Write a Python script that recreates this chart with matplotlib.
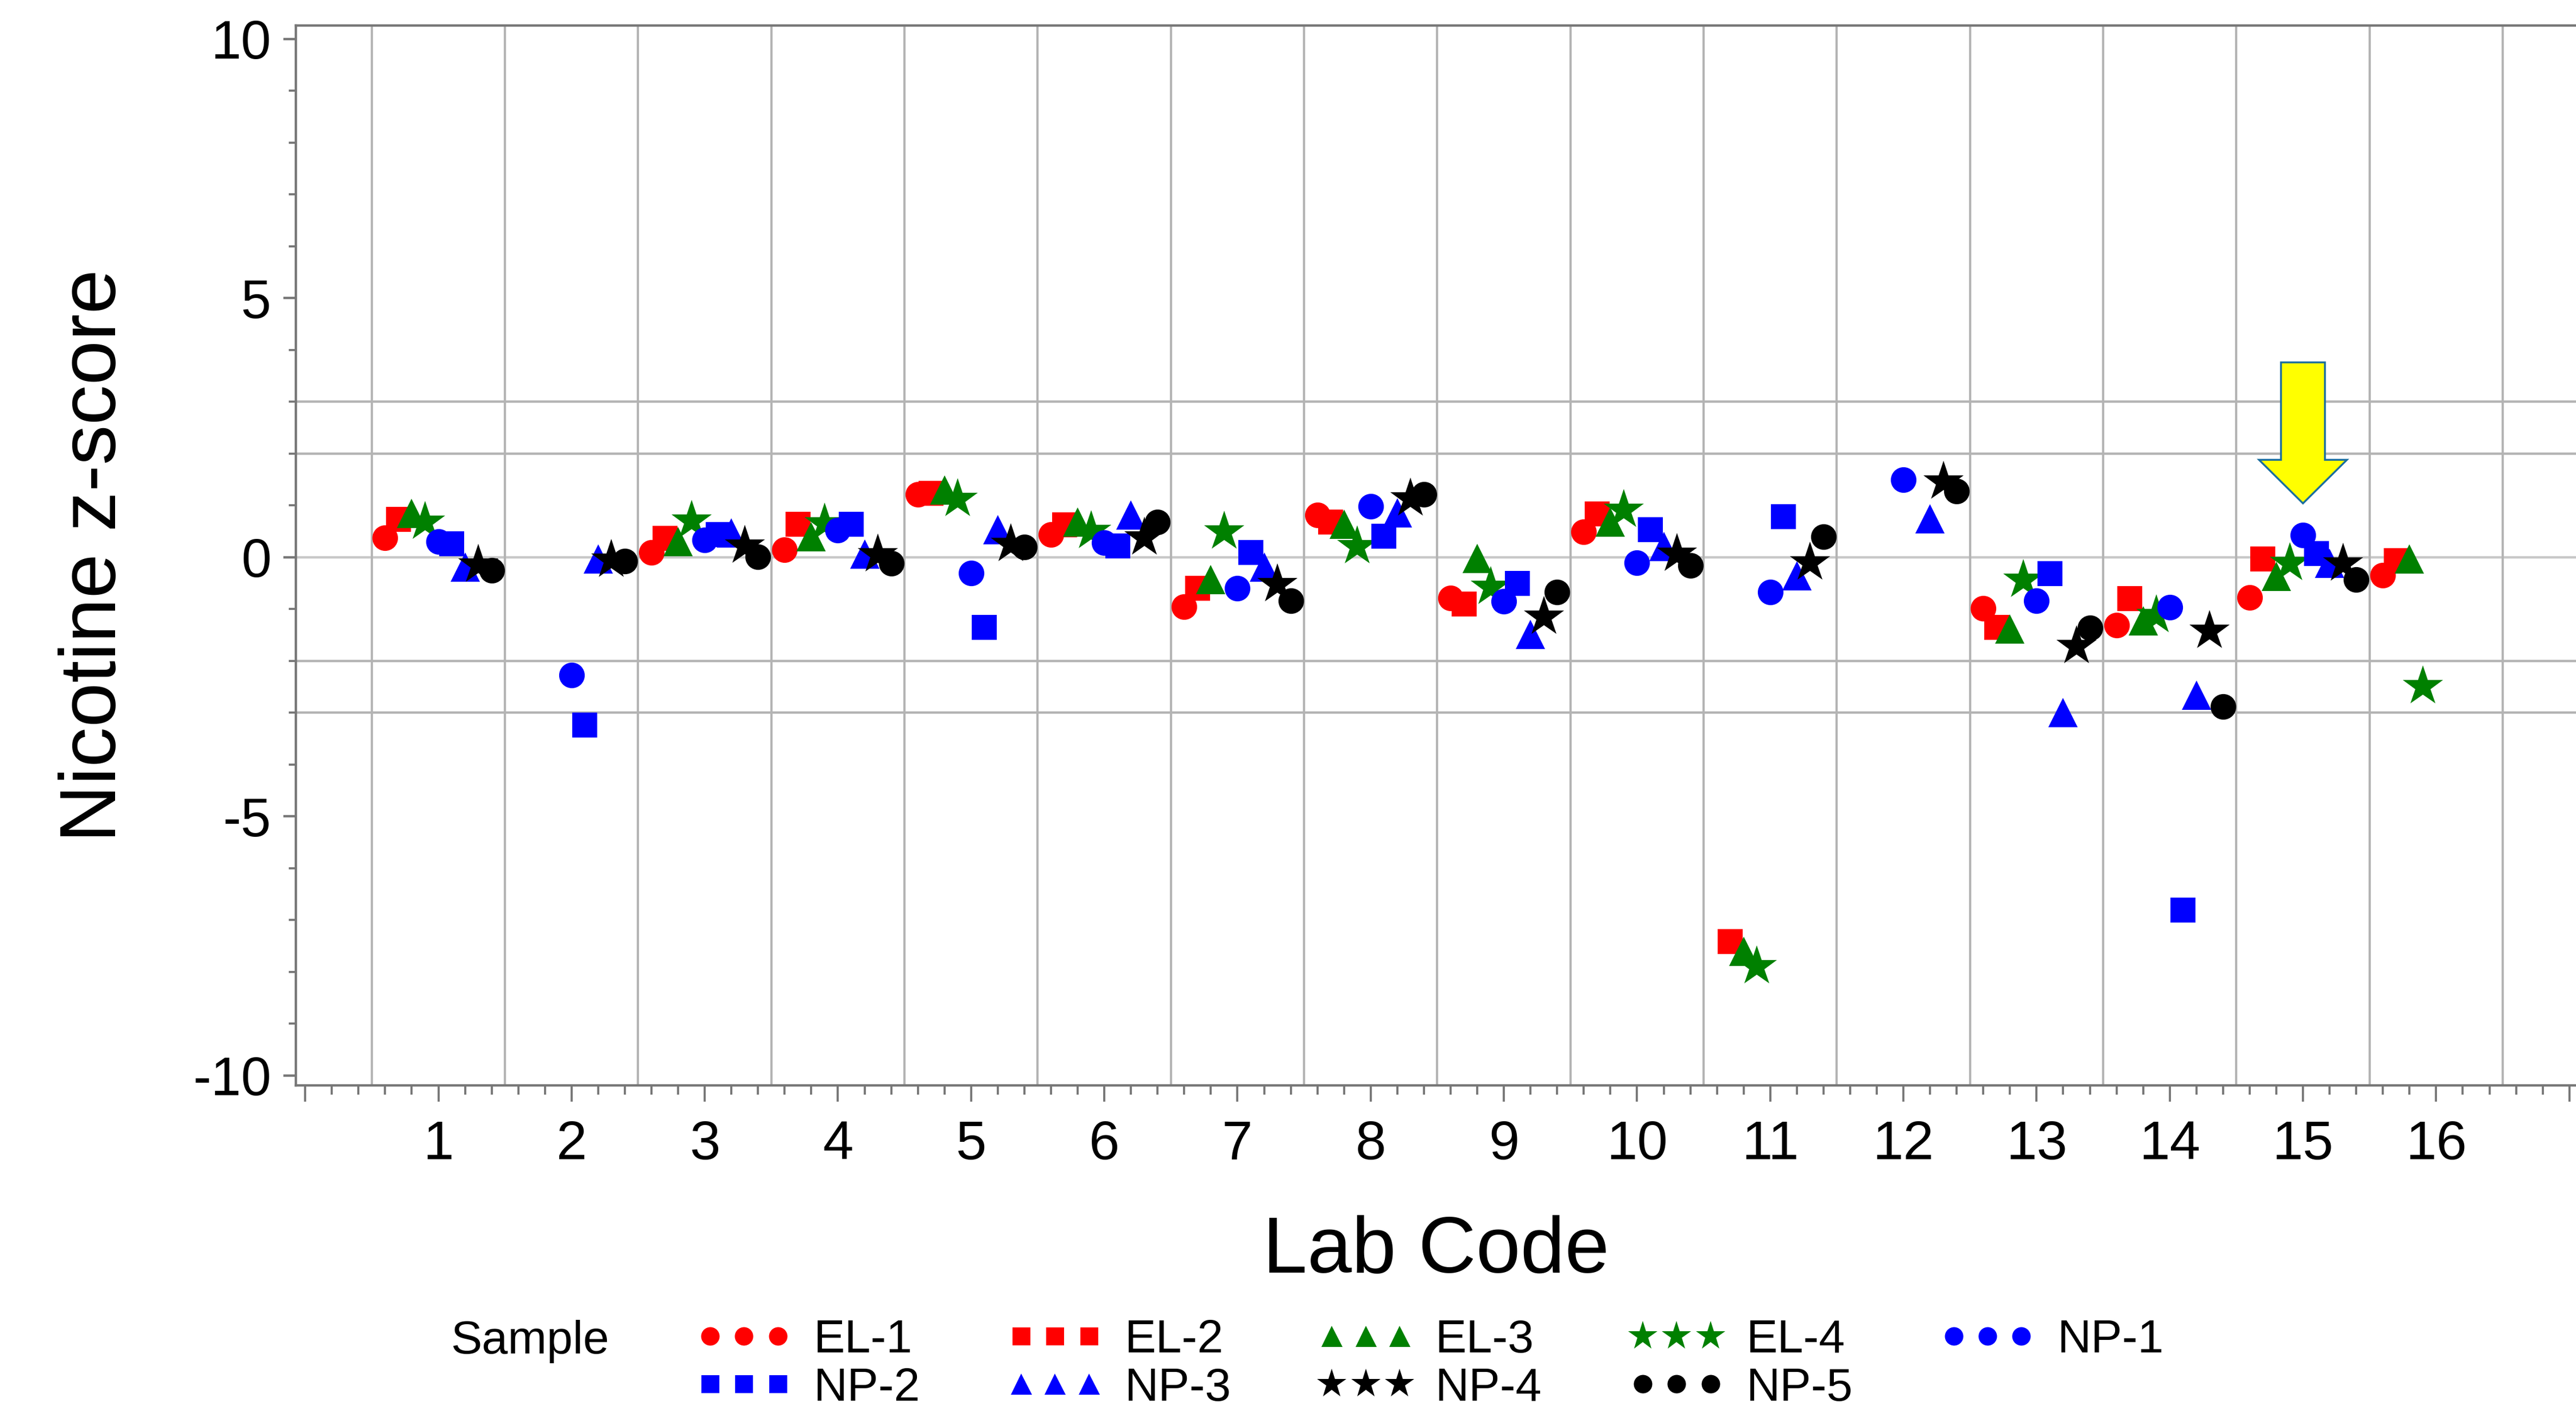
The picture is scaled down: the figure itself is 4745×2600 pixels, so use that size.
import numpy as np
import matplotlib
matplotlib.use("Agg")
import matplotlib.pyplot as plt
from matplotlib.ticker import FixedLocator, MultipleLocator, FixedFormatter
from matplotlib.patches import Polygon

plt.rcParams['font.family'] = ['Liberation Sans', 'DejaVu Sans']
plt.rcParams['axes.unicode_minus'] = False

nan = np.nan
labs = list(range(1, 17))
samples = ["EL-1", "EL-2", "EL-3", "EL-4", "NP-1", "NP-2", "NP-3", "NP-4", "NP-5"]
offsets = [-0.4, -0.3, -0.2, -0.1, 0.0, 0.1, 0.2, 0.3, 0.4]

el1 = [0.38, nan, 0.09, 0.14, 1.21, 0.44, -0.95, 0.81, -0.79, 0.49, nan, nan, -0.99, -1.31, -0.78, -0.35]
el2 = [0.73, nan, 0.37, 0.64, 1.23, 0.63, -0.60, 0.68, -0.90, 0.84, -7.42, nan, -1.35, -0.80, -0.03, -0.06]
el3 = [0.85, nan, 0.30, 0.40, 1.30, 0.68, -0.43, 0.64, -0.02, 0.68, -7.60, nan, -1.38, -1.23, -0.37, -0.03]
el4 = [0.68, nan, 0.70, 0.65, 1.12, 0.50, 0.49, 0.21, -0.58, 0.91, -7.90, nan, -0.44, -1.12, -0.12, -2.49]
np1 = [0.30, -2.27, 0.33, 0.52, -0.31, 0.28, -0.60, 0.98, -0.85, -0.11, -0.67, 1.50, -0.84, -0.96, 0.43, nan]
np2 = [0.26, -3.24, 0.44, 0.64, -1.35, 0.22, 0.09, 0.41, -0.50, 0.53, 0.78, nan, -0.32, -6.81, 0.07, nan]
np3 = [-0.19, -0.03, 0.47, 0.06, 0.53, 0.81, -0.19, 0.86, -1.49, 0.21, -0.36, 0.74, -3.00, -2.66, -0.12, nan]
np4 = [-0.15, -0.05, 0.22, 0.05, 0.25, 0.38, -0.53, 1.13, -1.15, 0.06, -0.11, 1.45, -1.72, -1.43, -0.13, nan]
np5 = [-0.25, -0.07, 0.01, -0.12, 0.20, 0.68, -0.84, 1.21, -0.67, -0.16, 0.40, 1.28, -1.36, -2.88, -0.43, nan]
series = [el1, el2, el3, el4, np1, np2, np3, np4, np5]

ref_lines = [0, 2, -2, 3, -3]
xtick_labels = [str(i) for i in labs]
yticks = [-10, -5, 0, 5, 10]

# arrow marker on lab 15 (annotation)
arrow_lab = 15
arrow_top, arrow_head, arrow_tip = 3.76, 1.88, 1.04

colors = ["#ff0000", "#ff0000", "#008000", "#008000", "#0000ff", "#0000ff", "#0000ff", "#000000", "#000000"]
markers = ["o", "s", "^", "*", "o", "s", "^", "*", "o"]
msizes = [34, 33, 39, 56, 34, 33, 39, 56, 34]

W, H = 4745, 2600
fig = plt.figure(figsize=(W / 100, H / 100), dpi=100)
ax_l, ax_r, ax_b, ax_t = 545, 4745, 2000, 47
ax = fig.add_axes([ax_l / W, 1 - ax_b / H, (ax_r - ax_l) / W, (ax_b - ax_t) / H])

grid_c = "#b4b4b4"
for y in ref_lines:
    ax.axhline(y, color="#c8c8c8" if y == 0 else grid_c, lw=3.2, zorder=1)
for xv in np.arange(0.5, 17.0, 1.0):
    ax.axvline(xv, color=grid_c, lw=3.0, zorder=1)

handles = []
x_base = np.array(labs, dtype=float)
for i, (name, vals) in enumerate(zip(samples, series)):
    h, = ax.plot(x_base + offsets[i], vals, linestyle="none", marker=markers[i],
                 color=colors[i], markersize=msizes[i], markeredgewidth=0,
                 label=name, zorder=3 + i)
    handles.append(h)

# yellow arrow
sw, hw = 0.165, 0.33
pts = [(arrow_lab - sw, arrow_top), (arrow_lab + sw, arrow_top), (arrow_lab + sw, arrow_head),
       (arrow_lab + hw, arrow_head), (arrow_lab, arrow_tip), (arrow_lab - hw, arrow_head),
       (arrow_lab - sw, arrow_head)]
ax.add_patch(Polygon(pts, closed=True, facecolor="#ffff00", edgecolor="#1a6e9e", lw=2.5, zorder=20))

ax.set_xlim(-0.07, 17.05)
ax.set_ylim(-10.19, 10.26)

ax.xaxis.set_major_locator(FixedLocator(list(range(0, 18))))
ax.xaxis.set_major_formatter(FixedFormatter([""] + xtick_labels + [""]))
ax.xaxis.set_minor_locator(MultipleLocator(0.2))
ax.yaxis.set_major_locator(FixedLocator(yticks))
ax.yaxis.set_minor_locator(MultipleLocator(1))

spine_c = "#777777"
for s in ["left", "bottom", "top"]:
    ax.spines[s].set_color(spine_c)
    ax.spines[s].set_linewidth(3.2)
ax.spines["right"].set_visible(False)

ax.tick_params(axis="x", which="major", length=21.5, width=2.8, color=spine_c, pad=24, labelsize=73)
ax.tick_params(axis="x", which="minor", length=12, width=2.8, color=spine_c)
ax.tick_params(axis="y", which="major", length=16.5, width=3.2, color=spine_c, pad=16, labelsize=72)
ax.tick_params(axis="y", which="minor", length=9.5, width=2.8, color=spine_c)

ax.set_xlabel("Lab Code", fontsize=106)
ax.xaxis.label.set_va("baseline")
ax.xaxis.set_label_coords(0.5, (ax_b - 2345) / (ax_b - ax_t))
ax.set_ylabel("Nicotine z-score", fontsize=106)
ax.yaxis.set_label_coords((243 - ax_l) / (ax_r - ax_l), 0.5)

# legend
order = [0, 5, 1, 6, 2, 7, 3, 8, 4]
leg = fig.legend([handles[k] for k in order], [samples[k] for k in order],
                 loc="upper left", bbox_to_anchor=(1282 / W, 1 - 2430 / H),
                 ncol=5, numpoints=3, frameon=False, fontsize=62,
                 markerscale=0.72, handlelength=2.05, handletextpad=0.47,
                 columnspacing=1.85, labelspacing=0.1, borderpad=0, borderaxespad=0)
fig.text(830 / W, 1 - 2494 / H, "Sample", fontsize=62, va="baseline", ha="left")

fig.savefig("out.png", dpi=100)
